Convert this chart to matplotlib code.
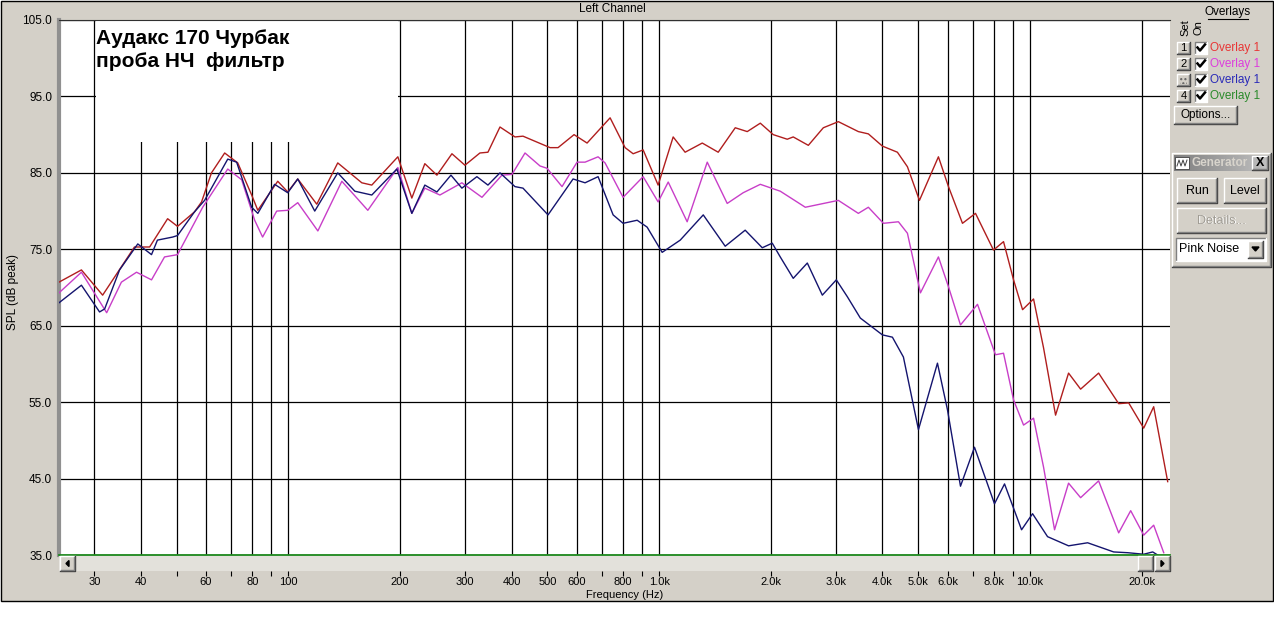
import matplotlib
matplotlib.use("Agg")
import matplotlib.pyplot as plt
import numpy as np
from matplotlib.patches import Rectangle, Polygon
from matplotlib.ticker import NullLocator

plt.rcParams['font.family'] = ['Liberation Sans', 'DejaVu Sans']

# ---- data ----
red_f = [24.1, 27.7, 31.6, 38.5, 42.3, 47.3, 50.3, 55.9, 58.4, 62.1, 67.4, 73.1,
         79.7, 82.8, 93.7, 99.7, 106.1, 119.4, 136.0, 157.9, 168.0, 197.5, 215.4,
         233.5, 251.7, 276.3, 299.5, 328.7, 345.5, 372.3, 408.6, 429.5, 508.0,
         533.9, 589.7, 639.3, 737.6, 809.5, 851.0, 905.5, 993.8, 1091, 1175,
         1307, 1443, 1604, 1728, 1874, 2031, 2215, 2299, 2525, 2771, 3042, 3444,
         3665, 3999, 4389, 4671, 5033, 5662, 6026, 6574, 7127, 7969, 8482, 9026,
         9546, 10219, 10874, 11716, 12700, 13688, 15305, 17336, 18448, 20249,
         21544, 23500]
red_db = [70.7, 72.3, 69.0, 75.3, 75.3, 79.0, 78.0, 79.9, 81.2, 85.0, 87.6, 86.3,
          82.1, 80.1, 83.9, 82.5, 84.2, 80.9, 86.3, 83.7, 83.4, 87.1, 81.7,
          86.2, 84.7, 87.5, 86.0, 87.6, 87.7, 91.0, 89.7, 89.8, 88.3,
          88.3, 90.0, 88.9, 92.2, 88.3, 87.5, 88.0, 83.4, 89.7, 87.7,
          88.9, 87.7, 90.9, 90.4, 91.5, 90.0, 89.4, 89.7, 88.6, 90.9, 91.7, 90.4,
          90.1, 88.5, 87.7, 85.8, 81.4, 87.1, 83.2, 78.4, 79.7, 74.9, 76.0, 71.0,
          67.1, 68.5, 62.1, 53.3, 58.8, 56.7, 58.8, 54.8, 54.9, 51.6,
          54.4, 44.6]

mag_f = [24.1, 27.7, 32.4, 35.5, 39.0, 42.8, 46.4, 50.3, 58.8, 68.7, 74.9, 81.2,
         85.3, 93.1, 99.7, 106.1, 120.2, 139.5, 163.9, 197.5, 215.4, 233.5, 256.4,
         293.9, 332.9, 376.9, 401.1, 434.9, 477.4, 498.6, 547.3, 600.8, 631.4,
         684.6, 714.9, 799.5, 905.5, 993.8, 1058, 1190, 1348, 1526, 1685, 1874,
         2121, 2478, 3042, 3444, 3665, 4024, 4417, 4671, 5064, 5662, 6026, 6493,
         7216, 8069, 8482, 9026, 9605, 10219, 10874, 11643, 12700, 13688, 15305,
         17336, 18678, 20249, 21544, 22931]
mag_db = [69.3, 72.0, 66.7, 70.7, 72.0, 71.0, 74.0, 74.3, 80.5, 85.5, 84.1, 78.8,
          76.6, 80.0, 80.1, 81.1, 77.4, 83.9, 80.1, 85.7, 79.7, 83.0, 82.1,
          83.7, 81.8, 84.7, 84.8, 87.6, 85.9, 85.6, 83.2, 86.4, 86.4,
          87.1, 86.3, 81.8, 84.5, 81.2, 83.8, 78.6, 86.4, 81.0, 82.4, 83.5,
          82.6, 80.5, 81.4, 79.7, 80.5, 78.4, 78.6, 77.1, 69.3, 74.0, 70.1, 65.1,
          67.8, 61.2, 61.4, 55.3, 52.0, 52.9, 46.5, 38.3, 44.4, 42.5, 44.7,
          37.9, 40.8, 37.6, 38.9, 35.3]

blue_f = [24.1, 27.7, 31.0, 32.0, 35.1, 39.3, 42.8, 44.4, 48.8, 50.3, 55.9, 59.5,
          68.7, 72.6, 79.7, 82.8, 91.9, 99.7, 106.1, 117.9, 136.0, 151.2, 168.0,
          196.3, 215.4, 233.5, 251.7, 274.6, 293.9, 322.6, 345.5, 372.3, 408.6,
          429.5, 501.7, 586.1, 631.4, 684.6, 751.5, 799.5, 872.5, 928.1, 1019,
          1140, 1315, 1507, 1706, 1897, 2018, 2121, 2299, 2509, 2754, 3004, 3216,
          3487, 3999, 4255, 4556, 5002, 5628, 5989, 6493, 7083, 8019, 8535, 9487,
          10156, 11148, 12700, 14297, 16805, 18333, 20249, 21412, 22931]
blue_db = [68.0, 70.3, 66.8, 67.2, 72.3, 75.7, 74.3, 76.2, 76.6, 76.8, 79.9, 81.4,
           86.8, 86.4, 80.5, 79.7, 83.5, 82.4, 84.2, 80.0, 85.0, 82.6, 82.1,
           85.5, 79.7, 83.4, 82.5, 84.7, 83.0, 84.5, 83.4, 85.0, 83.2,
           83.0, 79.5, 84.2, 83.7, 84.5, 79.5, 78.4, 78.8, 77.9, 74.6,
           76.2, 79.5, 75.4, 77.5, 75.2, 75.8, 74.0, 71.2, 73.2, 69.0, 71.0, 68.8,
           66.0, 63.8, 63.5, 60.9, 51.4, 60.1, 54.0, 44.0, 49.1, 41.7, 44.3, 38.3,
           40.4, 37.4, 36.2, 36.6, 35.4, 35.3, 35.1, 35.4, 34.5]

green_f = [24.1, 23840]
green_db = [35.0, 35.0]

grid_f = [30, 40, 50, 60, 70, 80, 90, 100, 200, 300, 400, 500, 600, 700, 800, 900,
          1000, 2000, 3000, 4000, 5000, 6000, 7000, 8000, 9000, 10000, 20000]
grid_lbl = ['30', '40', '', '60', '', '80', '', '100', '200', '300', '400', '500',
            '600', '', '800', '', '1.0k', '2.0k', '3.0k', '4.0k', '5.0k', '6.0k',
            '', '8.0k', '', '10.0k', '20.0k']
y_ticks = [35, 45, 55, 65, 75, 85, 95, 105]
overlay_names = ['Overlay 1', 'Overlay 1', 'Overlay 1', 'Overlay 1']
overlay_colors = ['#e83535', '#dd3cdd', '#2a2ab8', '#2a8a2a']

W, H = 1274, 637
GRAY = '#d4d0c8'

fig = plt.figure(figsize=(W / 100, H / 100), dpi=100, facecolor='white')

# full-figure pixel axes for the window chrome
bg = fig.add_axes([0, 0, 1, 1], zorder=0)
bg.set_xlim(0, W); bg.set_ylim(H, 0); bg.axis('off')
bg.add_patch(Rectangle((0.5, 0.5), 1272, 600, facecolor=GRAY, edgecolor='black', lw=1))

fg = fig.add_axes([0, 0, 1, 1], zorder=10)
fg.set_xlim(0, W); fg.set_ylim(H, 0); fg.axis('off'); fg.patch.set_alpha(0)


def bevel(ax, x0, y0, x1, y1, face=GRAY, sunken=False):
    ax.add_patch(Rectangle((x0, y0), x1 - x0, y1 - y0, facecolor=face, edgecolor='none'))
    lt, dk = ('white', '#404040') if not sunken else ('#808080', 'white')
    ax.plot([x0, x0, x1], [y1, y0, y0], color=lt, lw=1)
    ax.plot([x0, x1, x1], [y1, y1, y0], color=dk, lw=1)
    if not sunken:
        ax.plot([x0 + 1, x1 - 1, x1 - 1], [y1 - 1, y1 - 1, y0 + 1], color='#808080', lw=1)


# ---- main plot ----
ax = fig.add_axes([59 / W, (H - 555) / H, 1111 / W, 535 / H], zorder=2)
ax.set_facecolor('white')
ax.set_xscale('log')
ax.set_xlim(24.1, 23840)
ax.set_ylim(35, 105)
ax.set_xticks(grid_f)
ax.set_xticklabels([])
ax.xaxis.set_minor_locator(NullLocator())
ax.set_yticks(y_ticks)
ax.set_yticklabels(['%.1f' % v for v in y_ticks])
ax.tick_params(axis='x', length=0)
ax.tick_params(axis='y', length=0, pad=5, labelsize=8.5)
ax.grid(True, color='black', lw=0.9, zorder=1)
ax.set_axisbelow(True)
for s in ['right', 'bottom']:
    ax.spines[s].set_visible(False)
ax.spines['top'].set_color('#303030')
ax.spines['left'].set_color('#909090')
ax.spines['left'].set_linewidth(3)

# white label box over the grid
ax.add_patch(Rectangle((0.0333, 0.772), 0.2718, 0.23, transform=ax.transAxes,
                       facecolor='white', edgecolor='none', zorder=2))
ax.text(0.0333, 0.984, 'Аудакс 170 Чурбак\nпроба НЧ  фильтр', transform=ax.transAxes,
        fontsize=15, fontweight='bold', va='top', ha='left', linespacing=1.3, zorder=4)

ax.plot(red_f, red_db, color='#b01e1e', lw=1, zorder=3)
ax.plot(mag_f, mag_db, color='#c83ec8', lw=1, zorder=3)
ax.plot(blue_f, blue_db, color='#14146e', lw=1, zorder=3)
ax.plot(green_f, green_db, color='#1f8a1f', lw=1.3, zorder=5, clip_on=False)

# ---- scrollbar with the frequency ticks ----
sb = fig.add_axes([59 / W, (H - 571) / H, 1111 / W, 15 / H], zorder=3)
sb.set_facecolor('#e3e1db')
sb.set_xscale('log')
sb.set_xlim(24.1, 23840)
sb.set_ylim(0, 1)
sb.set_xticks(grid_f)
sb.set_xticklabels(grid_lbl)
sb.xaxis.set_minor_locator(NullLocator())
sb.set_yticks([])
sb.tick_params(axis='x', direction='out', length=3.5, width=0.8, pad=0.5, labelsize=8)
for s in sb.spines.values():
    s.set_visible(False)

bevel(fg, 60, 556, 75, 571)
fg.add_patch(Polygon([[66, 563.5], [69, 560.5], [69, 566.5]], color='black'))
bevel(fg, 1138, 556, 1153, 571)
bevel(fg, 1155, 556, 1170, 571)
fg.add_patch(Polygon([[1164, 563.5], [1161, 560.5], [1161, 566.5]], color='black'))

fg.text(612, 9, 'Left Channel', ha='center', va='center', fontsize=8.5)
fg.text(625, 599.5, 'Frequency (Hz)', ha='center', va='bottom', fontsize=8)
fg.text(13, 292, 'SPL (dB peak)', ha='center', va='center', rotation=90, fontsize=8.5)

# ---- overlays panel ----
fg.text(1228, 12, 'Overlays', ha='center', va='center', fontsize=8.5)
fg.plot([1208, 1248], [19, 19], color='black', lw=0.8)
fg.text(1185, 28, 'Set', ha='center', va='center', rotation=90, fontsize=8)
fg.text(1199, 28, 'On', ha='center', va='center', rotation=90, fontsize=8)
for i, (name, col) in enumerate(zip(overlay_names, overlay_colors)):
    yc = 48 + 16 * i
    bevel(fg, 1177, yc - 6, 1190, yc + 6)
    if i == 2:
        fg.add_patch(Rectangle((1180, yc - 4), 7, 8, facecolor='none', edgecolor='#606060',
                               hatch='....', lw=0))
    else:
        fg.text(1183.5, yc, str(i + 1), ha='center', va='center', fontsize=8)
    bevel(fg, 1195, yc - 6, 1207, yc + 6, face='white', sunken=True)
    fg.plot([1197.5, 1200, 1205], [yc - 0.5, yc + 2.5, yc - 3.5], color='black', lw=1.8)
    fg.text(1210, yc, name, ha='left', va='center', fontsize=8.5, color=col)

bevel(fg, 1174, 106, 1237, 124)
fg.text(1205.5, 115, 'Options...', ha='center', va='center', fontsize=8.5)

# ---- generator window ----
bevel(fg, 1172, 153, 1271, 267)
grad = np.linspace(0, 1, 64)[None, :]
fg.imshow(grad, cmap=matplotlib.colors.LinearSegmentedColormap.from_list('g', ['#808080', '#c0c0c0']),
          extent=(1174, 1269, 171, 155), aspect='auto', zorder=2)
fg.set_xlim(0, W); fg.set_ylim(H, 0)
fg.add_patch(Rectangle((1175, 157), 14, 12, facecolor='white', edgecolor='#404040', lw=0.6, zorder=3))
fg.plot([1177, 1179, 1181, 1183, 1185, 1187], [166, 160, 166, 160, 166, 160], color='#404040', lw=0.7, zorder=4)
fg.text(1192, 163, 'Generator', ha='left', va='center', fontsize=8.5, fontweight='bold',
        color='#d8d4cc', zorder=4)
bevel(fg, 1252, 156, 1268, 170)
fg.text(1260, 163, 'X', ha='center', va='center', fontsize=9, fontweight='bold', zorder=5)

bevel(fg, 1177, 178, 1217, 203)
fg.text(1197, 190.5, 'Run', ha='center', va='center', fontsize=9)
bevel(fg, 1224, 178, 1266, 203)
fg.text(1245, 190.5, 'Level', ha='center', va='center', fontsize=9)
bevel(fg, 1177, 208, 1266, 233)
fg.text(1222.5, 221.5, 'Details...', ha='center', va='center', fontsize=9, color='white')
fg.text(1221.5, 220.5, 'Details...', ha='center', va='center', fontsize=9, color='#a09c94')
bevel(fg, 1176, 238, 1266, 261, face='white', sunken=True)
fg.text(1179, 249.5, 'Pink Noise', ha='left', va='center', fontsize=9)
bevel(fg, 1248, 241, 1263, 258)
fg.add_patch(Polygon([[1252, 247], [1259, 247], [1255.5, 251]], color='black', zorder=5))

fig.savefig('out.png', dpi=100, facecolor='white')
